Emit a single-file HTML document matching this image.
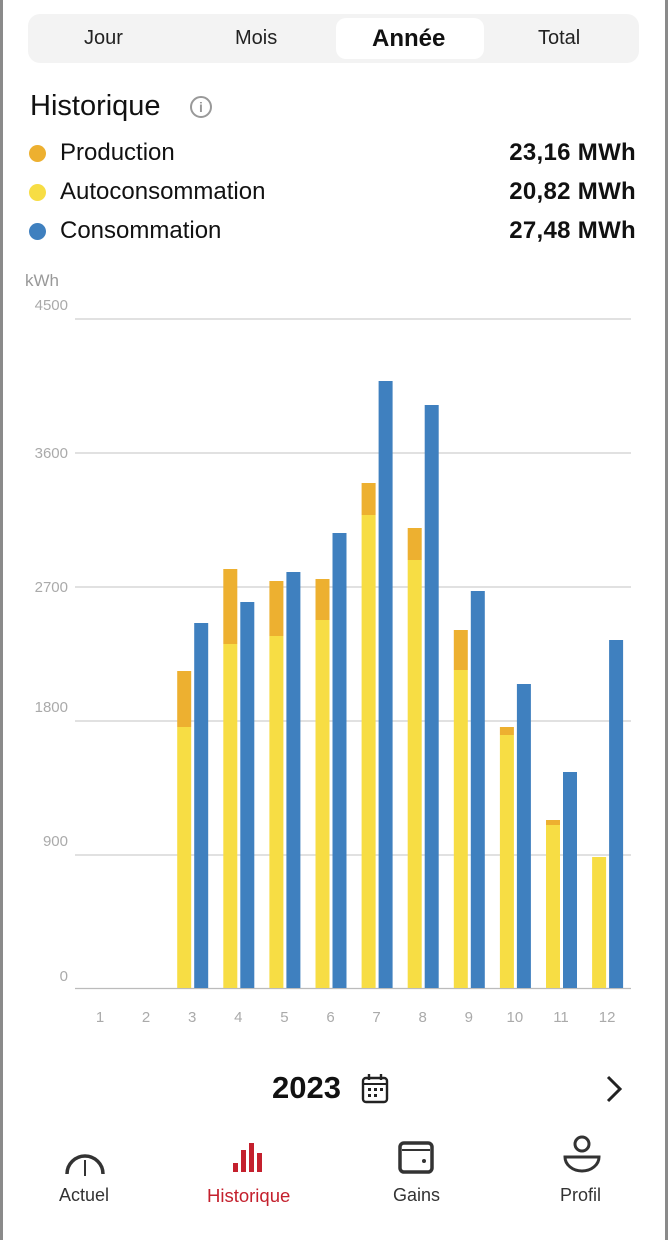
<!DOCTYPE html>
<html><head><meta charset="utf-8"><style>
*{margin:0;padding:0;box-sizing:border-box}
body{width:668px;height:1240px;background:#fff;font-family:"Liberation Sans",sans-serif;position:relative;overflow:hidden}
.bl{position:absolute;top:0;bottom:0;width:3px;background:#8a8a8a}
.t{position:absolute;white-space:nowrap}
</style></head><body>
<div class="bl" style="left:0"></div><div class="bl" style="right:0"></div>
<div style="position:absolute;left:28px;top:14px;width:611px;height:49px;background:#f3f3f3;border-radius:12px"></div>
<div style="position:absolute;left:336px;top:18px;width:148px;height:41px;background:#fff;border-radius:10px"></div>
<div class="t" style="left:84px;top:27px;font-size:20px;color:#222">Jour</div>
<div class="t" style="left:235px;top:27px;font-size:20px;color:#222">Mois</div>
<div class="t" style="left:372px;top:25px;font-size:24px;font-weight:bold;color:#111">Année</div>
<div class="t" style="left:538px;top:27px;font-size:20px;color:#222">Total</div>
<div class="t" style="left:30px;top:90px;font-size:29px;color:#111">Historique</div>
<div style="position:absolute;left:190px;top:96px;width:22px;height:22px;border:2px solid #999;border-radius:50%;color:#999;font-size:14px;text-align:center;line-height:18px;font-weight:bold">i</div>
<div style="position:absolute;left:29px;top:145px;width:17px;height:17px;border-radius:50%;background:#EDB030"></div>
<div style="position:absolute;left:29px;top:184px;width:17px;height:17px;border-radius:50%;background:#F7DD44"></div>
<div style="position:absolute;left:29px;top:223px;width:17px;height:17px;border-radius:50%;background:#3F80BF"></div>
<div class="t" style="left:60px;top:139px;font-size:24px;color:#111">Production</div>
<div class="t" style="left:60px;top:178px;font-size:24px;color:#111">Autoconsommation</div>
<div class="t" style="left:60px;top:217px;font-size:24px;color:#111">Consommation</div>
<div class="t" style="right:32px;top:139px;font-size:24px;color:#111;font-weight:bold;letter-spacing:0.3px">23,16 MWh</div>
<div class="t" style="right:32px;top:178px;font-size:24px;color:#111;font-weight:bold;letter-spacing:0.3px">20,82 MWh</div>
<div class="t" style="right:32px;top:217px;font-size:24px;color:#111;font-weight:bold;letter-spacing:0.3px">27,48 MWh</div>
<svg style="position:absolute;left:0;top:0" width="668" height="1040" font-family="Liberation Sans, sans-serif">
<text x="25" y="286" font-size="17" fill="#999">kWh</text>
<g font-size="15" fill="#aaa" text-anchor="end">
<text x="68" y="310">4500</text><text x="68" y="458">3600</text><text x="68" y="592">2700</text><text x="68" y="712">1800</text><text x="68" y="846">900</text><text x="68" y="981">0</text>
</g>
<g stroke="#cfcfcf" stroke-width="1.3">
<line x1="75" x2="631" y1="319" y2="319"/><line x1="75" x2="631" y1="453" y2="453"/><line x1="75" x2="631" y1="587" y2="587"/><line x1="75" x2="631" y1="721" y2="721"/><line x1="75" x2="631" y1="855" y2="855"/><line x1="75" x2="631" y1="988.5" y2="988.5" stroke="#bbb"/>
</g>
<g id="bars"></g>
<g font-size="15" fill="#aaa" text-anchor="middle" id="xl"></g>
</svg>
<script>
var d=[null,null,[671,727,623],[569,644,602],[581,636,572],[579,620,533],[483,515,381],[528,560,405],[630,670,591],[727,735,684],[820,825,772],[857,857,640]];
var s='',l='';
for(var i=0;i<12;i++){var c=100+46.1*i;l+='<text x="'+c+'" y="1022">'+(i+1)+'</text>';
if(d[i]){var p=d[i];s+='<rect x="'+(c-15)+'" y="'+p[0]+'" width="14" height="'+(p[1]-p[0])+'" fill="#EDB030"/>';
s+='<rect x="'+(c-15)+'" y="'+p[1]+'" width="14" height="'+(988-p[1])+'" fill="#F7DD44"/>';
s+='<rect x="'+(c+2)+'" y="'+p[2]+'" width="14" height="'+(988-p[2])+'" fill="#3F80BF"/>';}}
document.getElementById('bars').innerHTML=s;document.getElementById('xl').innerHTML=l;
</script>
<div class="t" style="left:272px;top:1070px;font-size:31px;font-weight:bold;color:#111">2023</div>
<svg style="position:absolute;left:360px;top:1073px" width="30" height="32"><rect x="3" y="5" width="24" height="24" rx="3" fill="none" stroke="#222" stroke-width="2.4"/><line x1="3" y1="11" x2="27" y2="11" stroke="#222" stroke-width="2"/><line x1="9" y1="1" x2="9" y2="7" stroke="#222" stroke-width="2.4"/><line x1="21" y1="1" x2="21" y2="7" stroke="#222" stroke-width="2.4"/><g fill="#222"><rect x="8" y="15" width="3" height="3"/><rect x="14" y="15" width="3" height="3"/><rect x="20" y="15" width="3" height="3"/><rect x="8" y="21" width="3" height="3"/><rect x="14" y="21" width="3" height="3"/></g></svg>
<svg style="position:absolute;left:602px;top:1074px" width="24" height="30"><polyline points="6,3 18,15 6,27" fill="none" stroke="#222" stroke-width="3"/></svg>
<svg style="position:absolute;left:0;top:1130px" width="668" height="50">
<path d="M67 44 A18 18 0 0 1 103 44" fill="none" stroke="#333" stroke-width="3.5"/><line x1="85" y1="30" x2="85" y2="46" stroke="#333" stroke-width="2"/>
<g fill="#c4202d"><rect x="233" y="33" width="5" height="9"/><rect x="241" y="20" width="5" height="22"/><rect x="249" y="13" width="5" height="29"/><rect x="257" y="23" width="5" height="19"/></g>
<rect x="400" y="13" width="32" height="29" rx="4" fill="none" stroke="#333" stroke-width="3.5"/><line x1="402" y1="20" x2="430" y2="20" stroke="#333" stroke-width="2"/><circle cx="424" cy="31" r="2" fill="#333"/>
<circle cx="582" cy="14" r="7" fill="none" stroke="#333" stroke-width="3"/><path d="M565 27 H599 A17 14 0 0 1 565 27 Z" fill="none" stroke="#333" stroke-width="3"/>
</svg>
<div class="t" style="left:59px;top:1185px;font-size:18px;color:#333">Actuel</div>
<div class="t" style="left:207px;top:1185px;font-size:18.5px;color:#c4202d">Historique</div>
<div class="t" style="left:393px;top:1185px;font-size:18px;color:#333">Gains</div>
<div class="t" style="left:560px;top:1185px;font-size:18px;color:#333">Profil</div>
</body></html>
